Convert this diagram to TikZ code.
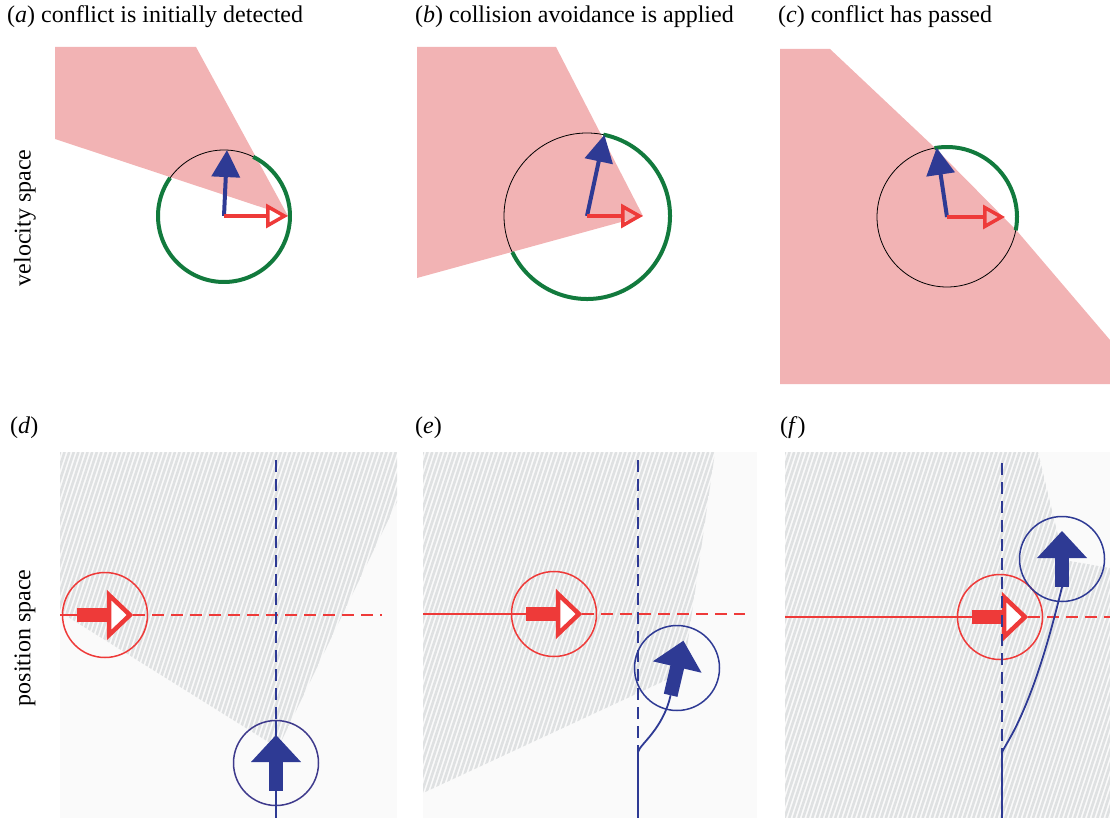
\documentclass[tikz,border=0pt]{standalone}
\usepackage{fontspec}
\setmainfont{Liberation Serif}
\usetikzlibrary{arrows.meta,calc}
\definecolor{ConePink}{HTML}{F2B3B4}
\definecolor{ShipRed}{HTML}{EE3A39}
\definecolor{ShipBlue}{HTML}{2E3A94}
\definecolor{ShipPurple}{HTML}{3E3A8C}
\definecolor{ArcGreen}{HTML}{127A3D}
\definecolor{HatchGray}{HTML}{DFE1E2}
\definecolor{PanelGray}{HTML}{FAFAFA}

\begin{document}
\begin{tikzpicture}[x=1pt,y=-1pt,
  caption/.style={anchor=base west,font=\fontsize{24}{28}\selectfont,inner sep=0pt},
  sidelabel/.style={rotate=90,font=\fontsize{24}{28}\selectfont,inner sep=0pt},
  cone/.style={fill=ConePink,draw=none},
  vcirc/.style={circle,draw=black,line width=0.8pt,inner sep=0pt},
  keep/.style={ArcGreen,line width=4pt},
  vblue/.style={ShipBlue,line width=4pt,-{Triangle[length=27pt,width=28pt]}},
  vred/.style={ShipRed,line width=3.5pt,-{Triangle[open,length=22pt,width=24pt,line width=3.5pt]}},
  panel/.style={fill=PanelGray,draw=none},
  hatch/.style={HatchGray,line width=2.6pt},
  ship/.style={circle,line width=1.5pt,inner sep=0pt,minimum size=85pt},
  redtrack/.style={ShipRed,line width=1.8pt},
  bluetrack/.style={ShipBlue,line width=1.8pt},
  trackdash/.style={dash pattern=on 12pt off 7pt},
  redarrow/.pic={
    \fill[ShipRed] (-28,-7) rectangle (3,7);
    \draw[ShipRed,line width=4.5pt,fill=white,line join=miter] (4,-20) -- (25,0) -- (4,20) -- cycle;
  },
  bluearrow/.pic={
    \fill[ShipBlue] (-28,-7) rectangle (3,7);
    \fill[ShipBlue] (1,-25) -- (28,0) -- (1,25) -- cycle;
  }
]
\useasboundingbox (0,0) rectangle (1110,818);

% captions
\node[caption] (capa) at (7,23) {(\textit{a}) conflict is initially detected};
\node[caption] (capb) at (415,23) {(\textit{b}) collision avoidance is applied};
\node[caption] (capc) at (778,23) {(\textit{c}) conflict has passed};
\node[caption] (capd) at (10,433) {(\textit{d})};
\node[caption] (cape) at (415,433) {(\textit{e})};
\node[caption] (capf) at (780,433) {(\textit{f})};
\node[sidelabel] (vlabel) at (25,218) {velocity space};
\node[sidelabel] (plabel) at (25,638) {position space};

% velocity space
\coordinate (va) at (224,216);
\coordinate (vb) at (587,216);
\coordinate (vc) at (947,217);
\fill[cone] (55,47) -- (196,47) -- (288,216) -- (55,139) -- cycle;
\fill[cone] (417,47) -- (556,47) -- (643,216) -- (417,278) -- cycle;
\fill[cone] (780,49) -- (830,49) -- (934,147) -- (1017,231) -- (1110,340) -- (1110,384) -- (780,384) -- cycle;

\node[vcirc,minimum size=132pt] (ca) at (va) {};
\node[vcirc,minimum size=166pt] (cb) at (vb) {};
\node[vcirc,minimum size=140pt] (cc) at (vc) {};
\draw[keep] ($(va)+(-144.7:66)$) arc[start angle=-144.7,end angle=-423.7,radius=66];
\draw[keep] ($(vb)+(154.2:83)$) arc[start angle=154.2,end angle=-78.6,radius=83];
\draw[keep] ($(vc)+(11:70)$) arc[start angle=11,end angle=-100.3,radius=70];

\draw[vblue] (va) -- ($(va)+(-87.4:66)$);
\draw[vred] (va) -- (288,216);
\draw[vblue] (vb) -- ($(vb)+(-77.9:83)$);
\draw[vred] (vb) -- (643,216);
\draw[vblue] (vc) -- ($(vc)+(-98.5:70)$);
\draw[vred] (vc) -- (1005,217);

% position space (d)
\fill[panel] (60,452) rectangle (397,818);
\begin{scope}
  \clip (60,452) -- (397,452) -- (397,502) -- (278,748) -- (60,612) -- cycle;
  \foreach \k in {0,...,105}
    \draw[hatch] ({-60+\k*4.6},818) -- ++(120,-366);
\end{scope}
\node[ship,draw=ShipRed] (rd) at (105,615) {};
\coordinate (rd0) at (60,615);
\coordinate (rd1) at (382,615);
\draw[redtrack] (rd0) -- ($(rd)+(-28,0)$);
\draw[redtrack,trackdash] ($(rd)+(28,0)$) -- (rd1);
\pic at (rd) {redarrow};
\node[ship,draw=ShipPurple] (bd) at (276,763) {};
\coordinate (bd0) at (276,460);
\coordinate (bd1) at (276,721);
\coordinate (bd2) at (276,818);
\draw[bluetrack,trackdash] (bd0) -- (bd1);
\draw[bluetrack] (bd2) -- (bd1);
\pic[rotate=90] at (bd) {bluearrow};

% position space (e)
\fill[panel] (423,452) rectangle (757,818);
\begin{scope}
  \clip (423,452) -- (715,452) -- (683.5,672) -- (423,793) -- cycle;
  \foreach \k in {0,...,105}
    \draw[hatch] ({303+\k*4.6},818) -- ++(120,-366);
\end{scope}
\node[ship,draw=ShipRed] (re) at (554,614) {};
\coordinate (re0) at (423,614);
\coordinate (re1) at (745,614);
\draw[redtrack] (re0) -- ($(re)+(-28,0)$);
\draw[redtrack,trackdash] ($(re)+(28,0)$) -- (re1);
\pic at (re) {redarrow};
\node[ship,draw=ShipBlue] (be) at (677,668) {};
\coordinate (be0) at (638,460);
\coordinate (be1) at (638,752);
\coordinate (be2) at (638,818);
\draw[bluetrack,trackdash] (be0) -- (be1);
\draw[bluetrack] (be2) -- (be1) .. controls (640,744) and (662.8,729.5) .. ($(be)+(103.2:28)$);
\pic[rotate=76.8] at (be) {bluearrow};

% position space (f)
\fill[panel] (785,452) rectangle (1110,818);
\begin{scope}
  \clip (785,452) -- (1038,452) -- (1064,560) -- (1110,568) -- (1110,818) -- (785,818) -- cycle;
  \foreach \k in {0,...,100}
    \draw[hatch] ({665+\k*4.6},818) -- ++(120,-366);
\end{scope}
\node[ship,draw=ShipRed] (rf) at (1000,617) {};
\coordinate (rf0) at (785,617);
\coordinate (rf1) at (1110,617);
\draw[redtrack] (rf0) -- ($(rf)+(-28,0)$);
\draw[redtrack,trackdash] ($(rf)+(28,0)$) -- (rf1);
\pic at (rf) {redarrow};
\node[ship,draw=ShipBlue] (bf) at (1062,559) {};
\coordinate (bf0) at (1002,463);
\coordinate (bf1) at (1002,753);
\coordinate (bf2) at (1002,818);
\draw[bluetrack,trackdash] (bf0) -- (bf1);
\draw[bluetrack] (bf2) -- (bf1) .. controls (1004,744) and (1030,720) .. ($(bf)+(0,28)$);
\pic[rotate=90] at (bf) {bluearrow};
\end{tikzpicture}
\end{document}
